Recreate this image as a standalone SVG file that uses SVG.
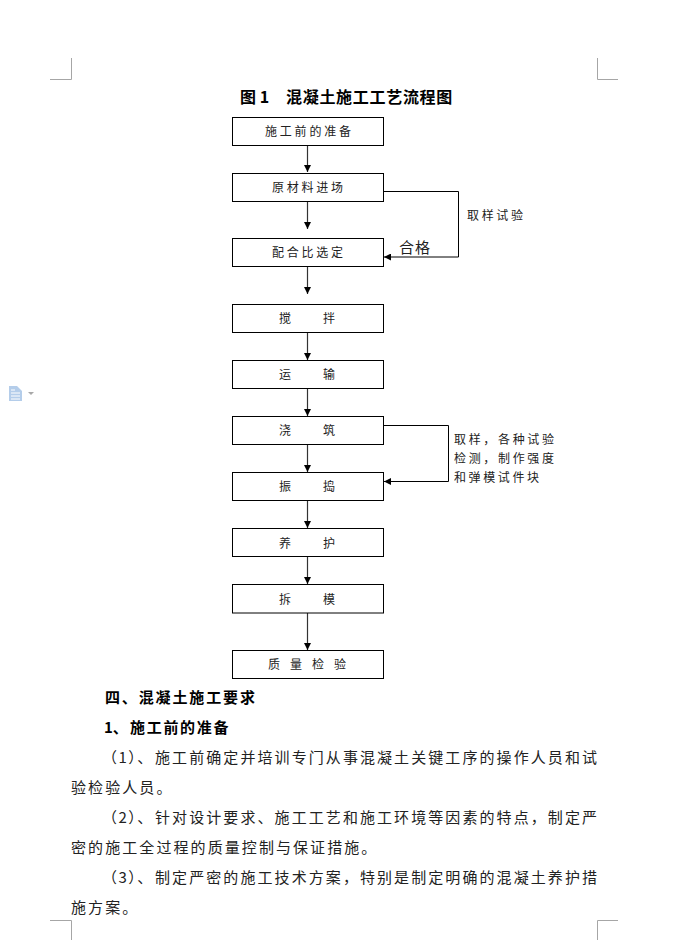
<svg xmlns="http://www.w3.org/2000/svg" width="694" height="940" viewBox="0 0 694 940">
<style>
text{font-family:"Noto Sans CJK SC","Liberation Serif",serif;fill:#222;font-size:12px}
.h{font-size:15px;font-weight:700;fill:#000}
.b{font-size:15px;fill:#222}
.s{letter-spacing:2.08px}
.box{fill:#fff;stroke:#000;stroke-width:1}
.c{fill:none;stroke:#000;stroke-width:1}
.v{fill:none;stroke:#333;stroke-width:1.2;marker-end:url(#a)}
.m{fill:none;stroke:#a6a6a6;stroke-width:1}
</style>
<defs>
<marker id="a" viewBox="0 0 7 7" refX="7" refY="3.5" markerWidth="7" markerHeight="7" markerUnits="userSpaceOnUse" orient="auto"><path d="M0 0L7 3.5L0 7z" fill="#000"/></marker>
</defs>
<rect width="694" height="940" fill="#fff"/>
<g id="crop-marks">
<path class="m" d="M50 79.500H71.500V58M597.500 58V79.500H618M50 920.500H71.500V940M618 920.500H597.500V940"/>
</g>
<g id="doc-icon">
<path d="M9 386H17L22 391V401H9z" fill="#b4cdea"/>
<path d="M11 390H15M11 393H20M11 396H20M11 399H20" stroke="#fff" stroke-width="1"/>
<path d="M28 392H34L31 395z" fill="#a8a8a8"/>
</g>
<text id="title" class="h" x="240" y="102.500" style="font-size:16px">图 1<tspan x="286" letter-spacing="0.7">混凝土施工工艺流程图</tspan></text>
<g id="connectors">
<path class="v" d="M307.500 145V172"/>
<path class="v" d="M307.500 201V229"/>
<path class="v" d="M307.500 266V294"/>
<path class="v" d="M307.500 332V360"/>
<path class="v" d="M307.500 388V416"/>
<path class="v" d="M307.500 444V472"/>
<path class="v" d="M307.500 500V528"/>
<path class="v" d="M307.500 556V584"/>
<path class="v" d="M307.500 613V650"/>
<path class="c" style="marker-end:url(#a)" d="M384 191.500H458.500V257H384"/>
<path class="c" style="marker-end:url(#a)" d="M384 425.500H448.500V481.500H384"/>
</g>
<g id="n1"><rect class="box" x="232.500" y="117.500" width="151" height="28"/><text x="265" y="136" textLength="86">施工前的准备</text></g>
<g id="n2"><rect class="box" x="232.500" y="173.500" width="151" height="28"/><text x="272" y="192" textLength="71">原材料进场</text></g>
<g id="n3"><rect class="box" x="232.500" y="238.500" width="151" height="28"/><text x="272" y="257" textLength="71">配合比选定</text></g>
<g id="n4"><rect class="box" x="232.500" y="304.500" width="151" height="28"/><text x="279" y="323">搅</text><text x="323" y="323">拌</text></g>
<g id="n5"><rect class="box" x="232.500" y="360.500" width="151" height="28"/><text x="279" y="379">运</text><text x="323" y="379">输</text></g>
<g id="n6"><rect class="box" x="232.500" y="416.500" width="151" height="28"/><text x="279" y="435">浇</text><text x="323" y="435">筑</text></g>
<g id="n7"><rect class="box" x="232.500" y="472.500" width="151" height="28"/><text x="279" y="491">振</text><text x="323" y="491">捣</text></g>
<g id="n8"><rect class="box" x="232.500" y="528.500" width="151" height="28"/><text x="279" y="548">养</text><text x="323" y="548">护</text></g>
<g id="n9"><rect class="box" x="232.500" y="584.500" width="151" height="28.500"/><text x="279" y="604">拆</text><text x="323" y="604">模</text></g>
<g id="n10"><rect class="box" x="232.500" y="650.500" width="151" height="28"/><text x="268" y="669">质</text><text x="290" y="669">量</text><text x="312" y="669">检</text><text x="334" y="669">验</text></g>
<g id="labels">
<text x="399" y="252.500" textLength="31" style="font-size:15px">合格</text>
<text x="467" y="219.500" textLength="56">取样试验</text>
<text x="454" y="443.500" textLength="100">取样，各种试验</text>
<text x="454" y="462.500" textLength="100">检测，制作强度</text>
<text x="454" y="481.500" textLength="85">和弹模试件块</text>
</g>
<g id="body">
<text class="h" x="105" y="702.500" textLength="150">四、混凝土施工要求</text>
<text class="h" x="104" y="732.500">1、<tspan x="130" letter-spacing="1.7">施工前的准备</tspan></text>
<text class="b" x="102" y="762.500" letter-spacing="1.5">（1）、<tspan x="155" class="s">施工前确定并培训专门从事混凝土关键工序的操作人员和试</tspan></text>
<text class="b s" x="71" y="792.500">验检验人员。</text>
<text class="b" x="102" y="822.500" letter-spacing="1.5">（2）、<tspan x="155" class="s">针对设计要求、施工工艺和施工环境等因素的特点，制定严</tspan></text>
<text class="b s" x="71" y="852.500">密的施工全过程的质量控制与保证措施。</text>
<text class="b" x="102" y="882.500" letter-spacing="1.5">（3）、<tspan x="155" class="s">制定严密的施工技术方案，特别是制定明确的混凝土养护措</tspan></text>
<text class="b s" x="71" y="912.500">施方案。</text>
</g>
</svg>
